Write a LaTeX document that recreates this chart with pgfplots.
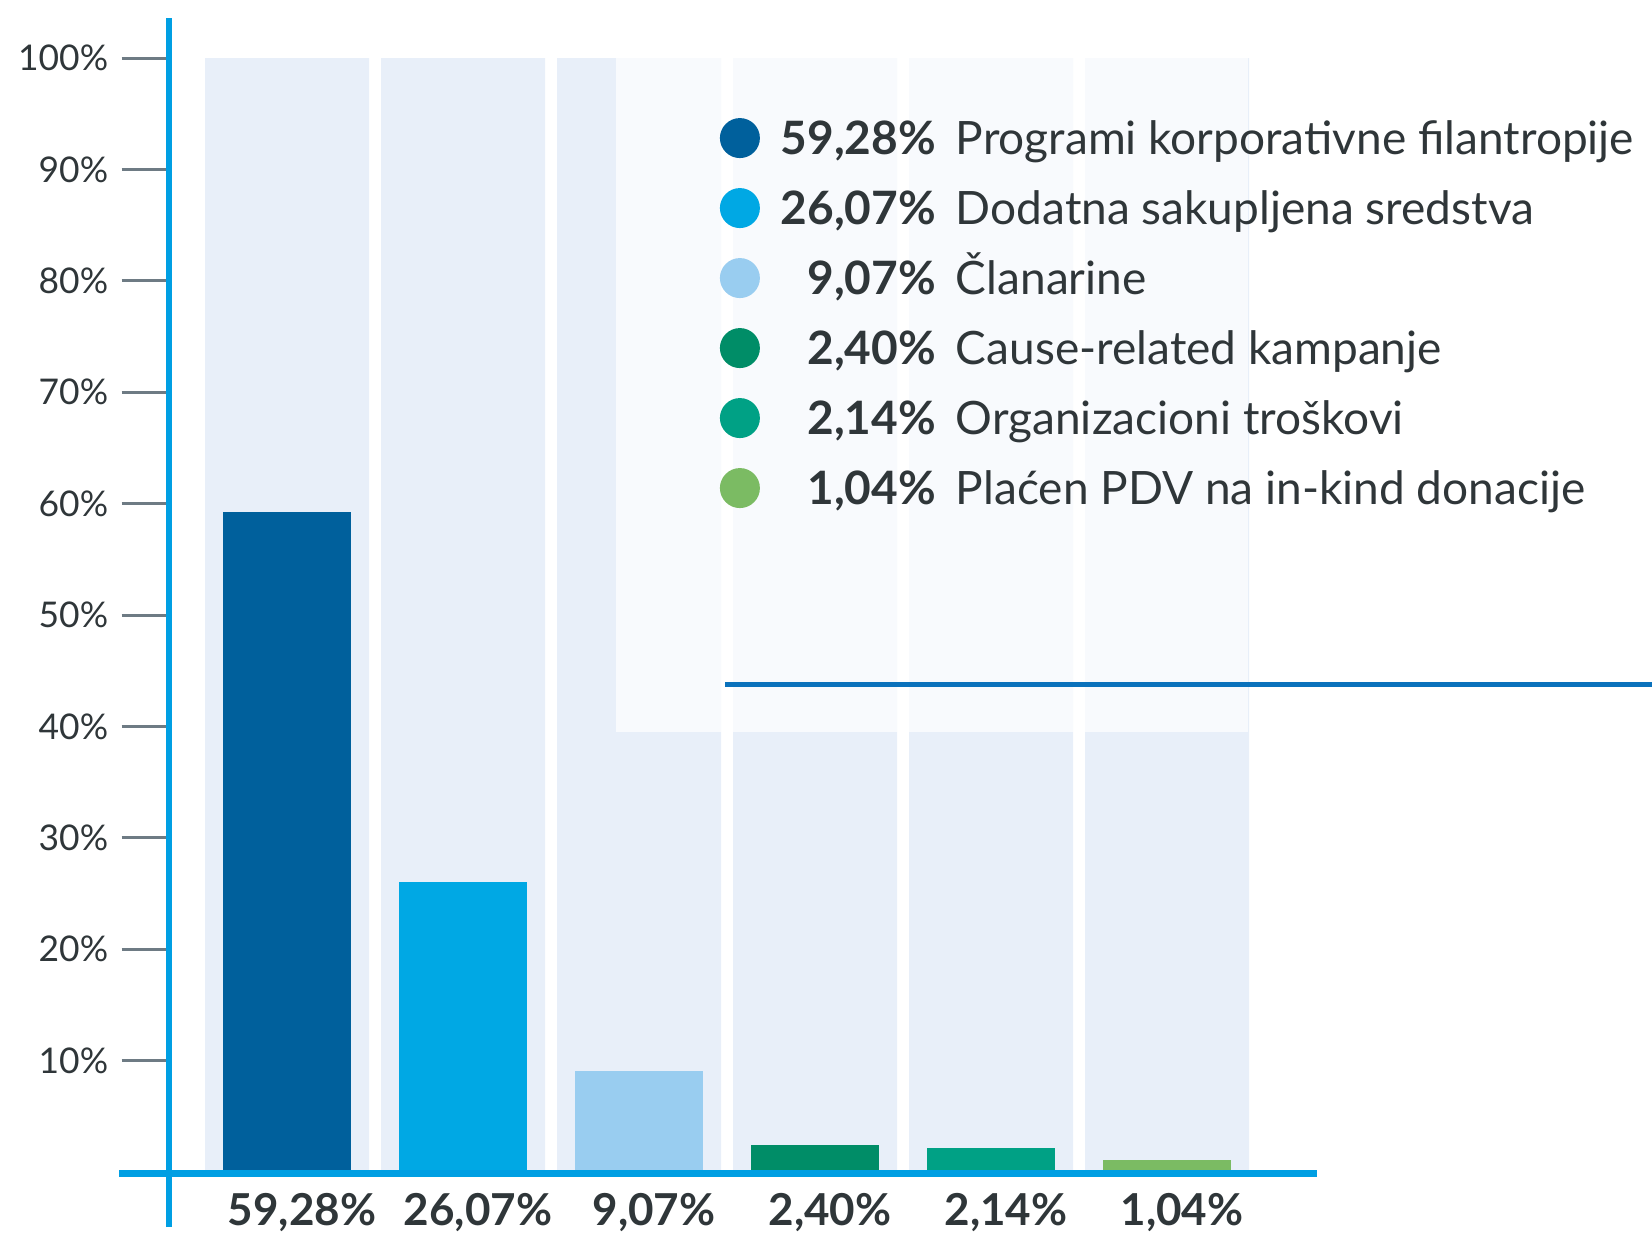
\documentclass[border=0pt]{standalone}
\usepackage{fontspec}
\setmainfont{Lato}
\usepackage{pgfplots}
\pgfplotsset{compat=1.18}
\definecolor{c1}{HTML}{00609C}
\definecolor{c2}{HTML}{00A8E4}
\definecolor{c3}{HTML}{99CDF0}
\definecolor{c4}{HTML}{008D67}
\definecolor{c5}{HTML}{00A185}
\definecolor{c6}{HTML}{7BBB63}
\definecolor{axisblue}{HTML}{009FE3}
\definecolor{legline}{HTML}{0B72BC}
\definecolor{tickgray}{HTML}{6E7B84}
\definecolor{txt}{HTML}{2F3639}
\definecolor{colbg}{HTML}{E8EFF9}
\pgfplotsset{dotlegend/.style={legend image code/.code={\fill (10pt,0pt) circle (10pt);}}}
\begin{document}
\begin{tikzpicture}
\begin{axis}[
  scale only axis, width=574.2pt, height=557pt,
  xmin=-0.673, xmax=5.852, ymin=0, ymax=100,
  axis line style={draw=none},
  clip=false,
  ytick pos=left, xtick pos=left,
  ytick={10,20,30,40,50,60,70,80,90,100},
  yticklabels={10\%,20\%,30\%,40\%,50\%,60\%,70\%,80\%,90\%,100\%},
  xtick={0,1,2,3,4,5},
  xticklabels={{59,28\%},{26,07\%},{9,07\%},{2,40\%},{2,14\%},{1,04\%}},
  tick align=outside,
  major tick length=23.5pt,
  ytick style={draw=tickgray, line width=1.5pt},
  xtick style={draw=none},
  yticklabel style={font=\fontsize{17.7}{20}\selectfont, text=txt, inner sep=0pt, xshift=-6.5pt},
  xticklabel style={font=\fontsize{22}{26}\selectfont\bfseries, text=txt, anchor=base, inner sep=0pt, yshift=-3pt, xshift=7.5pt},
  legend style={draw=none, fill=none, at={(0.4801,0.9461)}, anchor=north west,
    inner sep=0pt, outer sep=0pt, row sep=15pt, column sep=9pt,
    font=\fontsize{23}{27}\selectfont, text=txt,
    nodes={inner sep=0pt, text height=16.6pt, text depth=0pt},
    cells={anchor=west}},
]
\addplot[ybar, bar width=82pt, bar shift=0pt, fill=colbg, draw=none, forget plot]
  coordinates {(0,100) (1,100) (2,100) (3,100) (4,100) (5,100)};
\fill[white, opacity=0.72] (axis cs:1.869,39.5) rectangle (axis cs:5.46,100);
\draw[legline, line width=2.5pt] (axis cs:2.489,43.72) -- (axis cs:7.9,43.72);

\addplot[ybar, bar width=64pt, bar shift=0pt, fill=c1, draw=none, dotlegend] coordinates {(0,59.28)};
\addlegendentry{\makebox[79pt][r]{\bfseries 59,28\%}\hspace{10pt}Programi korporativne filantropije}
\addplot[ybar, bar width=64pt, bar shift=0pt, fill=c2, draw=none, dotlegend] coordinates {(1,26.07)};
\addlegendentry{\makebox[79pt][r]{\bfseries 26,07\%}\hspace{10pt}Dodatna sakupljena sredstva}
\addplot[ybar, bar width=64pt, bar shift=0pt, fill=c3, draw=none, dotlegend] coordinates {(2,9.07)};
\addlegendentry{\makebox[79pt][r]{\bfseries 9,07\%}\hspace{10pt}Članarine}
\addplot[ybar, bar width=64pt, bar shift=0pt, fill=c4, draw=none, dotlegend] coordinates {(3,2.40)};
\addlegendentry{\makebox[79pt][r]{\bfseries 2,40\%}\hspace{10pt}Cause-related kampanje}
\addplot[ybar, bar width=64pt, bar shift=0pt, fill=c5, draw=none, dotlegend] coordinates {(4,2.14)};
\addlegendentry{\makebox[79pt][r]{\bfseries 2,14\%}\hspace{10pt}Organizacioni troškovi}
\addplot[ybar, bar width=64pt, bar shift=0pt, fill=c6, draw=none, dotlegend] coordinates {(5,1.04)};
\addlegendentry{\makebox[79pt][r]{\bfseries 1,04\%}\hspace{10pt}Plaćen PDV na in-kind donacije}

\draw[axisblue, line width=3pt] (axis cs:-0.673,-4.94) -- (axis cs:-0.673,103.59);
\draw[axisblue, line width=3.5pt] (axis cs:-0.9545,-0.15) -- (axis cs:5.852,-0.15);
\coordinate (bbl) at (axis cs:-1.6307,-5.566);
\coordinate (btr) at (axis cs:7.7557,105.21);
\end{axis}
\pgfresetboundingbox
\path[use as bounding box] (bbl) rectangle (btr);
\end{tikzpicture}
\end{document}
